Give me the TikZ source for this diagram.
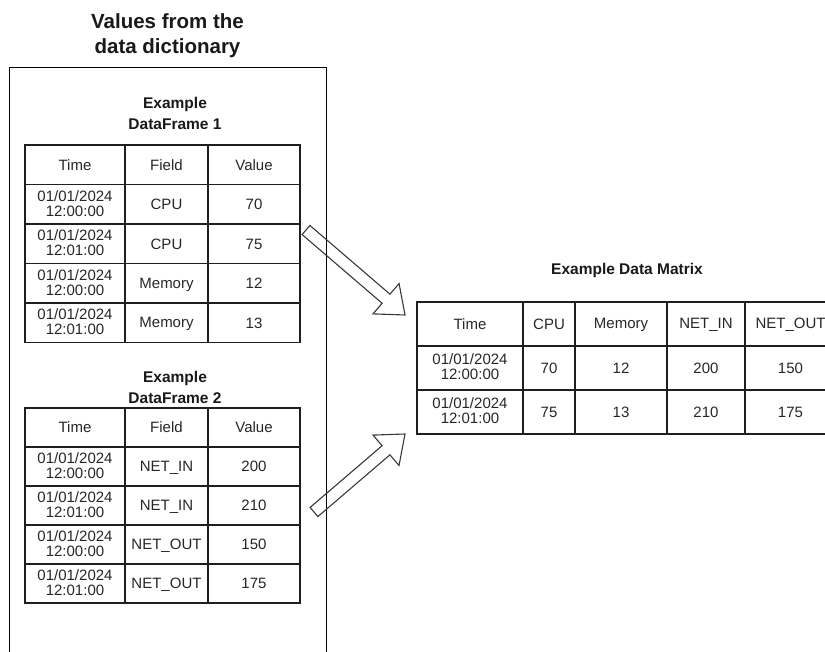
\documentclass[tikz,border=0pt]{standalone}
\usepackage{fontspec}
\setmainfont{Liberation Sans}
\usetikzlibrary{calc}

% strut that keeps the capitals of each line centred in a 15pt line
\newcommand\cs{\rule[-2.15pt]{0pt}{15pt}}
% two-line timestamps used in the table cells
\newcommand\tsA{01/01/2024\\\cs 12:00:00}
\newcommand\tsB{01/01/2024\\\cs 12:01:00}

\tikzset{
  linec/.style={draw=black!88, line width=1.3pt},
  cell/.style={linec, inner sep=0pt, align=center, text=black!85,
    font=\fontsize{15}{15}\selectfont, execute at begin node=\cs},
  tabtitle/.style={inner sep=0pt, align=center, text=black!90,
    font=\fontsize{15.5}{20.5}\selectfont\bfseries},
  bigtitle/.style={inner sep=0pt, align=center, text=black!90,
    font=\fontsize{20.5}{25}\selectfont\bfseries},
  blockarrow/.style={draw=black!78, line width=1.1pt, line join=miter},
}

% hollow block arrow from #1 to #2
\newcommand\blockarrow[2]{%
  \draw[blockarrow]
    ($(#1)!6pt!90:(#2)$) --
    ($($(#2)!25pt!(#1)$)!6pt!-90:(#1)$) --
    ($($(#2)!25pt!(#1)$)!20pt!-90:(#1)$) --
    (#2) --
    ($($(#2)!25pt!(#1)$)!20pt!90:(#1)$) --
    ($($(#2)!25pt!(#1)$)!6pt!90:(#1)$) --
    ($(#1)!6pt!-90:(#2)$) -- cycle;}

\begin{document}
\begin{tikzpicture}[x=1pt,y=-1pt]
\useasboundingbox (0,0) rectangle (825,652);

% title and the frame holding the two data frames
\node[bigtitle] (title) at (167.5,35.5) {Values from the\\data dictionary};
\node[draw=black, line width=1.3pt, anchor=north west, inner sep=0pt,
  minimum width=317pt, minimum height=600pt] (dict) at (9,67) {};

% first data frame
\node[tabtitle] (df1title) at (175,113.5) {Example\\DataFrame 1};
\foreach \a/\b/\c [count=\i from 0] in
  {Time/Field/Value, \tsA/CPU/70, \tsB/CPU/75, \tsA/Memory/12, \tsB/Memory/13} {
  \node[cell, minimum width=100pt, minimum height=39.5pt] (dfa-\i-1) at (75,{164.75+39.5*\i}) {\a};
  \node[cell, minimum width=83pt, minimum height=39.5pt] (dfa-\i-2) at (166.5,{164.75+39.5*\i}) {\b};
  \node[cell, minimum width=92pt, minimum height=39.5pt] (dfa-\i-3) at (254,{164.75+39.5*\i}) {\c};
}

% second data frame
\node[tabtitle] (df2title) at (175,387.5) {Example\\DataFrame 2};
\foreach \a/\b/\c [count=\i from 0] in
  {Time/Field/Value, \tsA/NET\_IN/200, \tsB/NET\_IN/210, \tsA/NET\_OUT/150, \tsB/NET\_OUT/175} {
  \node[cell, minimum width=100pt, minimum height=39pt] (dfb-\i-1) at (75,{427.5+39*\i}) {\a};
  \node[cell, minimum width=83pt, minimum height=39pt] (dfb-\i-2) at (166.5,{427.5+39*\i}) {\b};
  \node[cell, minimum width=92pt, minimum height=39pt] (dfb-\i-3) at (254,{427.5+39*\i}) {\c};
}

% combined data matrix
\node[tabtitle, anchor=base] (mtitle) at (627,275) {Example Data Matrix};
\foreach \a/\b/\c/\d/\e [count=\i from 0] in
  {Time/CPU/Memory/NET\_IN/NET\_OUT, \tsA/70/12/200/150, \tsB/75/13/210/175} {
  \node[cell, minimum width=106pt, minimum height=44pt] (dm-\i-1) at (470,{324+44*\i}) {\a};
  \node[cell, minimum width=52pt, minimum height=44pt] (dm-\i-2) at (549,{324+44*\i}) {\b};
  \node[cell, minimum width=92pt, minimum height=44pt] (dm-\i-3) at (621,{324+44*\i}) {\c};
  \node[cell, minimum width=78pt, minimum height=44pt] (dm-\i-4) at (706,{324+44*\i}) {\d};
  \node[cell, minimum width=91pt, minimum height=44pt] (dm-\i-5) at (790.5,{324+44*\i}) {\e};
}

% block arrows feeding the matrix
\coordinate (a1s) at (306,230);
\coordinate (a1t) at (405,315);
\coordinate (a2s) at (314,512);
\coordinate (a2t) at (405,434);
\blockarrow{a1s}{a1t}
\blockarrow{a2s}{a2t}
\end{tikzpicture}
\end{document}
